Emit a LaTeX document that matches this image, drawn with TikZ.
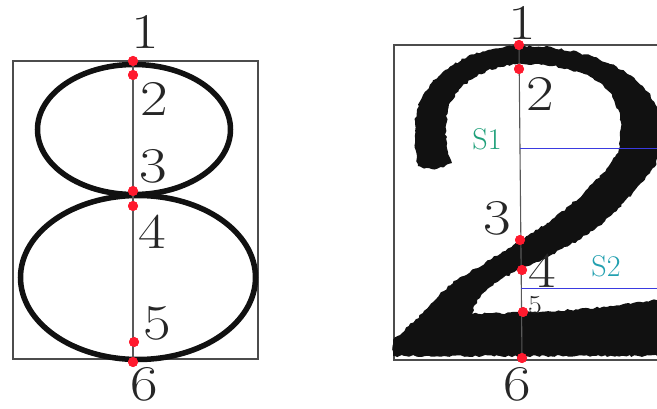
\documentclass[tikz,border=0pt]{standalone}
\usetikzlibrary{decorations.pathmorphing}
\definecolor{dotred}{HTML}{FF1A2E}
\definecolor{sone}{HTML}{1FA07A}
\definecolor{stwo}{HTML}{22A0B0}
\definecolor{bline}{HTML}{3A3AE0}
\definecolor{ink}{HTML}{111111}
\newcommand{\bigdigit}[1]{\fontsize{50}{50}\selectfont\scalebox{1.2}[1]{#1}}
\newcommand{\smalldigit}[1]{\fontsize{26}{26}\selectfont\scalebox{1.15}[1]{#1}}
\newcommand{\slabel}[1]{\fontsize{30}{30}\selectfont #1}
\tikzset{
  frame/.style={draw=black!70, line width=1.4pt},
  eightline/.style={draw=ink, line width=5.5pt},
  axis/.style={draw=black!65, line width=1.1pt},
  reddot/.style={circle, fill=dotred, inner sep=0pt, minimum size=10pt},
  digitlab/.style={inner sep=0pt, text=black!85},
  bluemark/.style={draw=bline, line width=1pt},
  glyph/.style={fill=ink, decorate, decoration={random steps, segment length=3pt, amplitude=1.1pt}}
}
\begin{document}
\pgfmathsetseed{4321}
\begin{tikzpicture}[x=1pt,y=-1pt]
\useasboundingbox (0,0) rectangle (657,409);
\fill[white] (0,0) rectangle (657,409);
\clip (0,0) rectangle (657,409);

% ---------------- left panel: the figure 8
\draw[frame] (13,61) rectangle (258,359);
\draw[eightline] (134,129.5) ellipse [x radius=96.5pt, y radius=65pt];
\draw[eightline] (138,277.5) ellipse [x radius=117.5pt, y radius=82pt];
\node[reddot] (L1) at (133,61) {};
\node[reddot] (L2) at (133,75) {};
\node[reddot] (L3) at (133,191) {};
\node[reddot] (L4) at (133,206) {};
\node[reddot] (L5) at (134,342) {};
\node[reddot] (L6) at (133,362) {};
\draw[axis] (L1.center) -- (L6.center);
\foreach \n in {L1,L2,L3,L4,L5,L6} \node[reddot] at (\n) {};
\node[digitlab] (tL1) at (145,32) {\bigdigit{1}};
\node[digitlab] (tL2) at (154,99) {\bigdigit{2}};
\node[digitlab] (tL3) at (153,166) {\bigdigit{3}};
\node[digitlab] (tL4) at (152,232) {\bigdigit{4}};
\node[digitlab] (tL5) at (157,323) {\bigdigit{5}};
\node[digitlab] (tL6) at (144,384) {\bigdigit{6}};

% ---------------- right panel: the figure 2
\draw[frame] (394,45) rectangle (720,360);
\fill[glyph] (418,166)
 .. controls (412,140) and (413,110) .. (425,92)
 .. controls (445,62) and (480,47) .. (520,46)
 .. controls (570,45) and (625,62) .. (648,92)
 .. controls (668,120) and (664,155) .. (650,173)
 .. controls (635,192) and (615,212) .. (603,223)
 .. controls (570,250) and (520,268) .. (500,280)
 .. controls (485,290) and (475,300) .. (472,314)
 -- (540,312) -- (607,307) -- (668,298)
 -- (668,356) -- (393,356) -- (393,340)
 .. controls (405,330) and (415,320) .. (423,313)
 .. controls (435,300) and (445,288) .. (457,280)
 .. controls (490,260) and (530,235) .. (547,223)
 .. controls (570,207) and (600,180) .. (615,157)
 .. controls (625,140) and (622,105) .. (607,90)
 .. controls (590,72) and (560,64) .. (522,64)
 .. controls (485,65) and (455,85) .. (448,110)
 .. controls (444,130) and (446,150) .. (452,163)
 .. controls (440,170) and (425,170) .. (418,166) -- cycle;
\node[reddot] (R1) at (519,45) {};
\node[reddot] (R2) at (519,69) {};
\node[reddot] (R3) at (520,240) {};
\node[reddot] (R4) at (522,270) {};
\node[reddot] (R5) at (523,312) {};
\node[reddot] (R6) at (522,358) {};
\draw[axis] (R1.center) -- (R6.center);
\coordinate (s1a) at (520,149);
\coordinate (s1b) at (657,149);
\coordinate (s2a) at (521,289);
\coordinate (s2b) at (657,289);
\draw[bluemark] (s1a) -- (s1b);
\draw[bluemark] (s2a) -- (s2b);
\foreach \n in {R1,R2,R3,R4,R5,R6} \node[reddot] at (\n) {};
\node[digitlab] (tR1) at (522,23) {\bigdigit{1}};
\node[digitlab] (tR2) at (540,94) {\bigdigit{2}};
\node[digitlab] (tR3) at (497,218) {\bigdigit{3}};
\node[digitlab] (tR4) at (542,271) {\bigdigit{4}};
\node[digitlab] (tR5) at (535,305) {\smalldigit{5}};
\node[digitlab] (tR6) at (517,384) {\bigdigit{6}};
\node[inner sep=0pt, text=sone] (S1) at (487,139) {\slabel{S1}};
\node[inner sep=0pt, text=stwo] (S2) at (606,266) {\slabel{S2}};
\end{tikzpicture}
\end{document}
